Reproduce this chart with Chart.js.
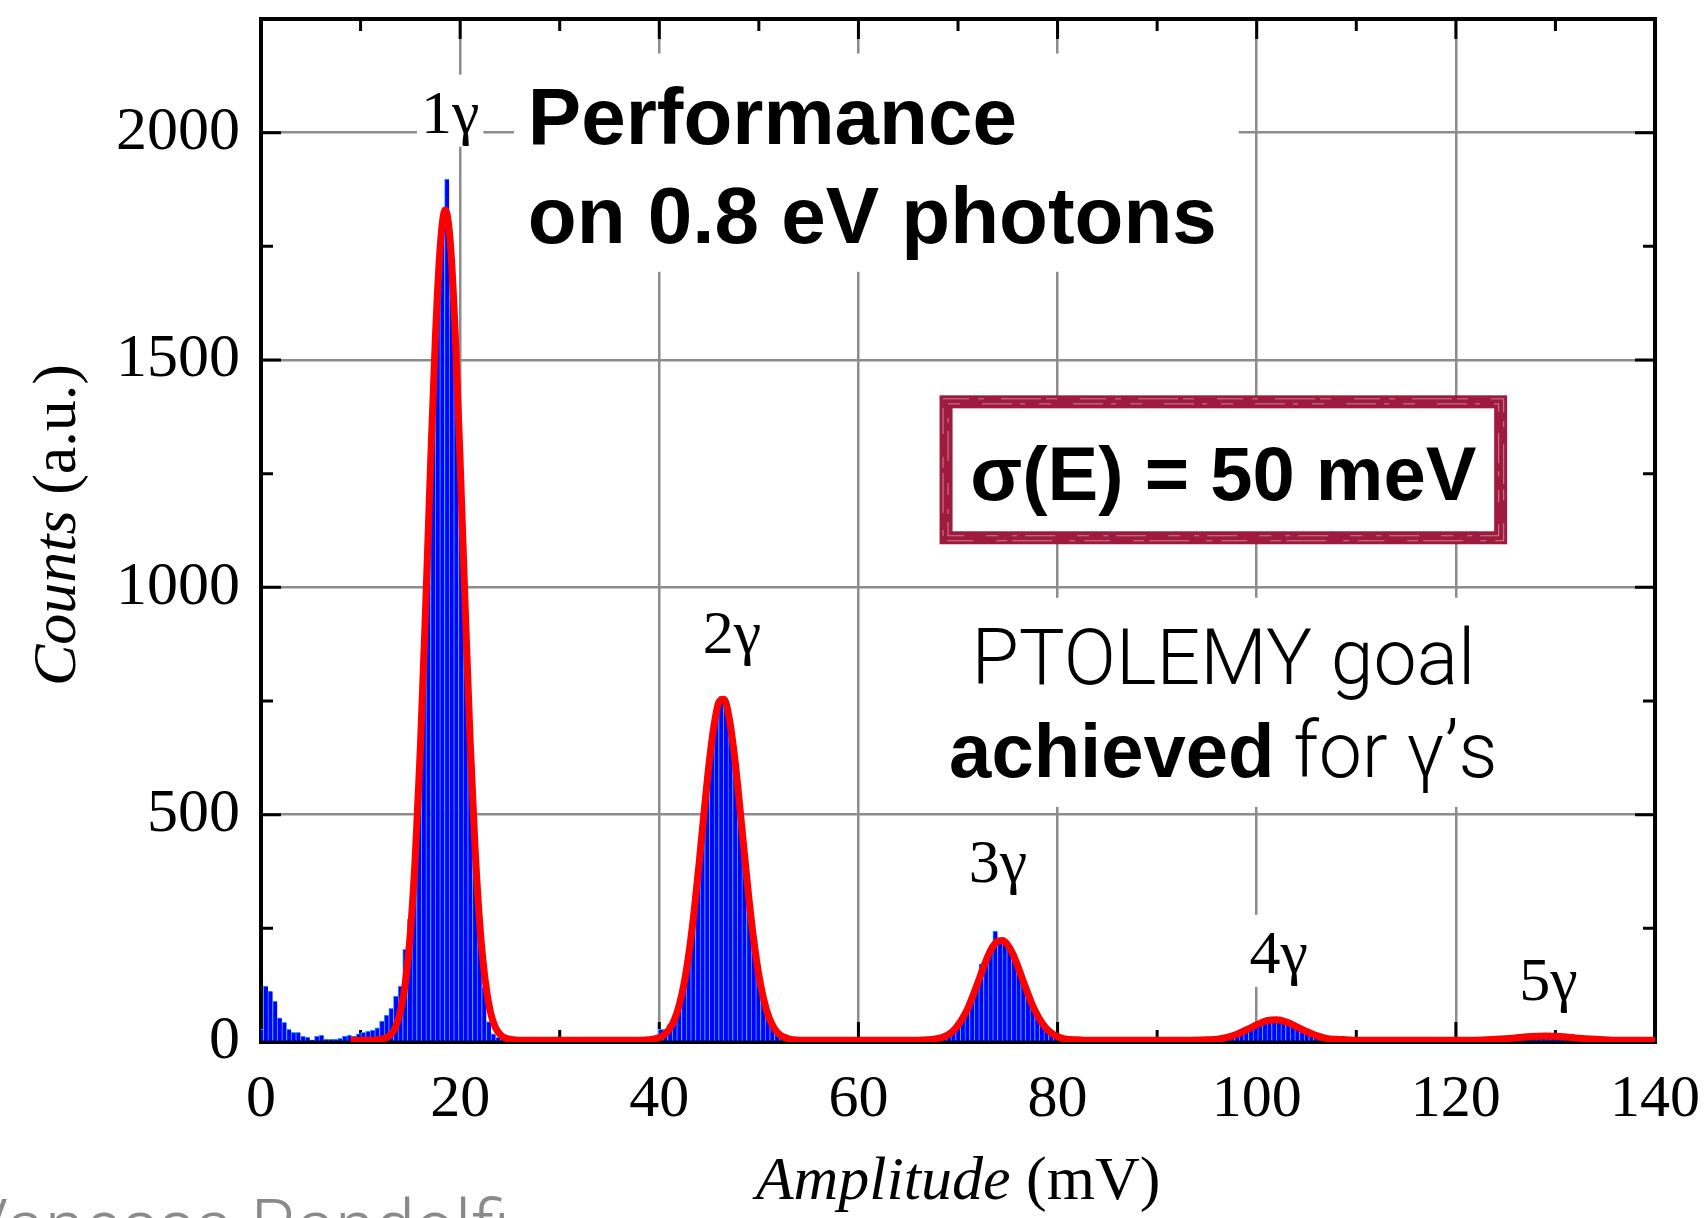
<!DOCTYPE html>
<html>
<head>
<meta charset="utf-8">
<script src="https://cdn.jsdelivr.net/npm/chart.js@4.4.1/dist/chart.umd.min.js"></script>
<style>
  html, body { margin: 0; padding: 0; background: #fff; }
  canvas { display: block; }
</style>
</head>
<body>
<canvas id="spectrum" width="1707" height="1218"></canvas>
<script>
// pulse-height histogram: 300 bins over 0-140 mV, bin k centred on k * binWidth
const binWidth = 140 / 300;
const counts = [
  28, 123, 112, 90, 53, 43, 28, 21, 21, 13, 11, 5, 13, 15, 6, 6, 6, 8, 13, 15,
  13, 18, 21, 24, 26, 31, 46, 59, 74, 101, 123, 204, 270, 420, 600, 840, 1100, 1390, 1640, 1780,
  1898, 1700, 1480, 1220, 930, 650, 420, 240, 120, 45, 18, 10, 7, 6, 5, 4, 4, 3, 4, 3,
  3, 3, 2, 3, 2, 3, 2, 2, 3, 2, 2, 2, 3, 2, 2, 2, 2, 3, 2, 2,
  2, 3, 2, 3, 3, 4, 28, 28, 39, 53, 85, 128, 190, 268, 360, 470, 575, 665, 728, 760,
  748, 690, 610, 515, 410, 310, 222, 150, 98, 60, 36, 20, 12, 8, 5, 4, 4, 3, 3, 3,
  3, 2, 3, 2, 2, 3, 2, 2, 2, 3, 2, 2, 2, 2, 3, 2, 2, 2, 3, 2,
  2, 3, 2, 3, 3, 4, 6, 9, 15, 22, 35, 52, 72, 98, 128, 172, 176, 200, 244, 225,
  215, 204, 185, 160, 132, 105, 80, 58, 41, 28, 19, 12, 8, 6, 4, 4, 3, 3, 3, 3,
  3, 3, 3, 3, 3, 3, 3, 3, 3, 3, 3, 3, 3, 3, 3, 3, 3, 3, 3, 3,
  3, 3, 3, 3, 3, 4, 5, 6, 8, 12, 16, 21, 26, 32, 37, 42, 46, 49, 50, 49,
  47, 44, 39, 33, 27, 21, 16, 12, 9, 7, 5, 4, 4, 3, 3, 3, 3, 3, 3, 3,
  3, 3, 3, 3, 3, 3, 3, 3, 3, 3, 3, 3, 3, 3, 3, 3, 3, 3, 3, 3,
  3, 3, 4, 4, 4, 5, 5, 6, 7, 8, 9, 10, 10, 11, 11, 11, 11, 11, 11, 11,
  10, 10, 9, 8, 7, 6, 5, 5, 4, 4, 4, 3, 3, 3, 3, 3, 3, 3, 3, 3,
  3
];

// multi-gaussian fit (mV, counts)
const fitX = [
  9, 10, 11, 12, 12.5, 13, 13.5, 14, 14.5, 15, 15.5, 16, 16.5, 17, 17.5, 18, 18.5, 19, 19.5, 20,
  20.5, 21, 21.5, 22, 22.5, 23, 23.5, 24, 24.5, 25, 26, 30, 35, 38, 39, 39.5, 40, 40.5, 41, 41.5,
  42, 42.5, 43, 43.5, 44, 44.5, 45, 45.5, 46, 46.5, 47, 47.5, 48, 48.5, 49, 49.5, 50, 50.5, 51, 51.5,
  52, 52.5, 53, 53.5, 54, 58, 62, 66, 67, 68, 68.5, 69, 69.5, 70, 70.5, 71, 71.5, 72, 72.5, 73,
  73.5, 74, 74.5, 75, 75.5, 76, 76.5, 77, 77.5, 78, 78.5, 79, 79.5, 80, 80.5, 81, 82, 83, 88, 93,
  95, 96, 97, 98, 99, 100, 101, 102, 103, 104, 105, 106, 107, 108, 109, 110, 115, 120, 122, 124,
  126, 127.5, 129, 130.5, 132, 134, 136, 140
];
const fitY = [
  4, 4, 4, 6, 9, 16, 32, 67, 131, 240, 409, 644, 935, 1251, 1542, 1750, 1830, 1762, 1562, 1276,
  960, 665, 425, 251, 138, 70, 34, 17, 9, 6, 4, 4, 4, 4, 5, 7, 10, 16, 28, 48,
  81, 130, 199, 288, 393, 506, 612, 697, 748, 754, 715, 639, 537, 425, 316, 222, 147, 93, 55, 32,
  18, 11, 7, 5, 4, 4, 4, 4, 5, 8, 11, 16, 24, 37, 54, 75, 102, 131, 161, 189,
  210, 222, 223, 213, 194, 167, 137, 108, 80, 58, 40, 27, 18, 12, 8, 6, 5, 4, 4, 4,
  5, 6, 10, 17, 27, 38, 47, 49, 44, 34, 23, 14, 8, 6, 5, 4, 4, 4, 4, 6,
  9, 12, 13, 12, 9, 6, 4, 4
];

const xTicks = [0, 20, 40, 60, 80, 100, 120, 140];
const yTicks = [0, 500, 1000, 1500, 2000];

const peakLabels = ['1γ', '2γ', '3γ', '4γ', '5γ'];
const peakLabelX = [19.0, 47.3, 74.0, 102.2, 129.3];
const peakLabelY = [2000, 856, 352, 152, 92];

const serif = "'Liberation Serif', 'Times New Roman', serif";
const sans = "'Liberation Sans', Arial, Helvetica, sans-serif";
const light = "Roboto, 'Liberation Sans', Arial, sans-serif";

// draws text pieces with different fonts one after another
function drawRuns(ctx, runs, x, y, align) {
  let total = 0;
  runs.forEach(r => { ctx.font = r.font; r.w = ctx.measureText(r.text).width; total += r.w; });
  let cx = align === 'center' ? x - total / 2 : x;
  ctx.textAlign = 'left';
  runs.forEach(r => { ctx.font = r.font; ctx.fillText(r.text, cx, y); cx += r.w; });
}

const annotate = {
  id: 'annotate',
  beforeDatasetsDraw(chart) {
    const { ctx, chartArea: a, scales: { x, y } } = chart;
    const px = v => x.getPixelForValue(v);
    const py = v => y.getPixelForValue(v);
    ctx.save();

    // white patches: the grid stops behind the text blocks
    ctx.fillStyle = '#fff';
    ctx.fillRect(px(25.4), py(2174), px(98.2) - px(25.4), py(1694) - py(2174));
    ctx.fillRect(px(68.2), py(977), px(125.5) - px(68.2), py(517) - py(977));
    ctx.font = `62px ${serif}`;
    peakLabels.forEach((t, i) => {
      const w = ctx.measureText(t).width;
      ctx.fillRect(px(peakLabelX[i]) - w / 2 - 4, py(peakLabelY[i]) - 58, w + 8, 72);
    });

    // resolution box with a worn red border
    const bx0 = px(68.8), bx1 = px(124.5), by0 = py(1408), by1 = py(1109);
    ctx.fillRect(bx0, by0, bx1 - bx0, by1 - by0);
    ctx.strokeStyle = '#9e1b3e';
    ctx.lineWidth = 13;
    ctx.strokeRect(bx0, by0, bx1 - bx0, by1 - by0);
    ctx.strokeStyle = 'rgba(255,255,255,0.45)';
    ctx.lineWidth = 1;
    ctx.setLineDash([26, 9, 6, 17, 40, 5, 11, 23]);
    ctx.strokeRect(bx0 - 3, by0 - 3, bx1 - bx0 + 6, by1 - by0 + 6);
    ctx.setLineDash([12, 22, 30, 8, 5, 14]);
    ctx.strokeRect(bx0 + 2, by0 + 2, bx1 - bx0 - 4, by1 - by0 - 4);
    ctx.setLineDash([]);

    // frame and inward ticks on all four sides
    ctx.strokeStyle = '#000';
    ctx.lineWidth = 4;
    ctx.strokeRect(a.left, a.top, a.width, a.height);
    ctx.lineWidth = 3;
    ctx.beginPath();
    for (let v = 0; v <= 140; v += 10) {
      const len = v % 20 === 0 ? 20 : 12;
      const X = px(v);
      ctx.moveTo(X, a.bottom); ctx.lineTo(X, a.bottom - len);
      ctx.moveTo(X, a.top); ctx.lineTo(X, a.top + len);
    }
    for (let v = 0; v <= 2250; v += 250) {
      const len = v % 500 === 0 ? 20 : 12;
      const Y = py(v);
      ctx.moveTo(a.left, Y); ctx.lineTo(a.left + len, Y);
      ctx.moveTo(a.right, Y); ctx.lineTo(a.right - len, Y);
    }
    ctx.stroke();
    ctx.restore();
  },
  afterDatasetsDraw(chart) {
    const { ctx, scales: { x, y } } = chart;
    const px = v => x.getPixelForValue(v);
    const py = v => y.getPixelForValue(v);
    ctx.save();
    ctx.fillStyle = '#000';
    ctx.textBaseline = 'alphabetic';

    // photon-number labels
    ctx.font = `62px ${serif}`;
    ctx.textAlign = 'center';
    peakLabels.forEach((t, i) => ctx.fillText(t, px(peakLabelX[i]), py(peakLabelY[i])));

    // headline
    ctx.font = `bold 80px ${sans}`;
    ctx.textAlign = 'left';
    ctx.fillText('Performance', px(26.8), py(1974));
    ctx.fillText('on 0.8 eV photons', px(26.8), py(1758));

    // resolution
    ctx.font = `bold 76px ${sans}`;
    ctx.textAlign = 'center';
    ctx.fillText('σ(E) = 50 meV', (px(68.8) + px(124.5)) / 2, py(1192));

    const cx = px(96.65);
    drawRuns(ctx, [{ text: 'PTOLEMY goal', font: `300 77px ${light}` }], cx, py(788), 'center');
    drawRuns(ctx, [
      { text: 'achieved', font: `bold 76px ${sans}` },
      { text: ' for γ’s', font: `300 77px ${light}` }
    ], cx, py(583), 'center');

    // axis titles
    drawRuns(ctx, [
      { text: 'Amplitude', font: `italic 62px ${serif}` },
      { text: ' (mV)', font: `62px ${serif}` }
    ], 958, 1199, 'center');
    ctx.translate(75, 525);
    ctx.rotate(-Math.PI / 2);
    drawRuns(ctx, [
      { text: 'Counts', font: `italic 62px ${serif}` },
      { text: ' (a.u.)', font: `62px ${serif}` }
    ], 0, 0, 'center');
    ctx.restore();

    // footer line of the slide, cut by the bottom edge
    ctx.save();
    ctx.fillStyle = '#8a8a8a';
    ctx.font = `300 72px ${light}`;
    ctx.textAlign = 'right';
    ctx.fillText('Vanessa Randolfi', 510, 1251);
    ctx.restore();
  }
};

new Chart(document.getElementById('spectrum'), {
  type: 'bar',
  data: {
    datasets: [
      {
        type: 'line',
        data: fitX.map((v, i) => ({ x: v, y: fitY[i] })),
        borderColor: '#ff0000',
        borderWidth: 7,
        pointRadius: 0,
        cubicInterpolationMode: 'monotone',
        order: 0
      },
      {
        type: 'bar',
        data: counts.map((c, k) => ({ x: k * binWidth, y: c })),
        backgroundColor: '#0000ff',
        borderColor: '#2aa8ff',
        borderWidth: { left: 1, top: 1, right: 0, bottom: 0 },
        barPercentage: 1,
        categoryPercentage: 1,
        order: 1
      }
    ]
  },
  options: {
    responsive: false,
    animation: false,
    devicePixelRatio: 1,
    layout: { padding: { top: 19, right: 52, left: 0, bottom: 0 } },
    plugins: { legend: { display: false }, tooltip: { enabled: false } },
    scales: {
      x: {
        type: 'linear',
        min: 0,
        max: 140,
        offset: false,
        grid: { color: '#8c8c8c', lineWidth: 2.5, drawTicks: false, offset: false },
        border: { display: false },
        ticks: {
          font: { family: serif, size: 60, lineHeight: 1.2 }, color: '#000', padding: 22,
          maxRotation: 0, autoSkip: false, callback: v => String(v)
        },
        afterBuildTicks: s => { s.ticks = xTicks.map(v => ({ value: v })); },
        afterFit: s => { s.height = 176; s.paddingLeft = 0; s.paddingRight = 0; }
      },
      y: {
        type: 'linear',
        min: 0,
        max: 2250,
        grid: { color: '#8c8c8c', lineWidth: 2.5, drawTicks: false },
        border: { display: false },
        ticks: { font: { family: serif, size: 62 }, color: '#000', padding: 21, callback: v => String(v) },
        afterBuildTicks: s => { s.ticks = yTicks.map(v => ({ value: v })); },
        afterFit: s => { s.width = 261; s.paddingTop = 0; s.paddingBottom = 0; }
      }
    }
  },
  plugins: [annotate]
});
</script>
</body>
</html>
